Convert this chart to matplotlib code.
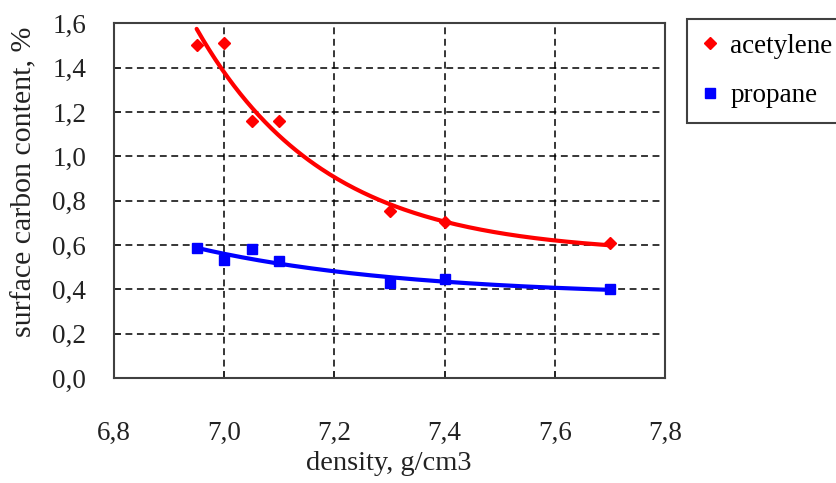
import numpy as np
import matplotlib
matplotlib.use("Agg")
import matplotlib.pyplot as plt

# values
density_acetylene = [6.95, 7.00, 7.05, 7.10, 7.30, 7.40, 7.70]
carbon_acetylene = [1.50, 1.51, 1.16, 1.16, 0.755, 0.705, 0.607]
density_propane = [6.95, 7.00, 7.05, 7.10, 7.30, 7.40, 7.70]
carbon_propane = [0.585, 0.532, 0.58, 0.528, 0.43, 0.445, 0.40]

x_ticks = [6.8, 7.0, 7.2, 7.4, 7.6, 7.8]
x_tick_labels = ["6,8", "7,0", "7,2", "7,4", "7,6", "7,8"]
y_ticks = [0.0, 0.2, 0.4, 0.6, 0.8, 1.0, 1.2, 1.4, 1.6]
y_tick_labels = ["0,0", "0,2", "0,4", "0,6", "0,8", "1,0", "1,2", "1,4", "1,6"]

plt.rcParams["font.family"] = ["Liberation Serif", "DejaVu Serif"]

W, H = 836, 483
fig = plt.figure(figsize=(W / 100, H / 100), dpi=100)
ax = fig.add_axes([114 / W, 1 - 378 / H, (665 - 114) / W, (378 - 23.3) / H])

def trend(x, y):
    # y = c + a*exp(-k*(x - x0)), relative-error least squares, k by grid search
    x = np.asarray(x)
    y = np.asarray(y)
    w = 1 / y
    best = None
    for k in np.linspace(0.5, 30, 600):
        A = np.column_stack([np.ones_like(x), np.exp(-k * (x - x.min()))])
        coef, *_ = np.linalg.lstsq(A * w[:, None], y * w, rcond=None)
        err = np.sum(((A @ coef - y) * w) ** 2)
        if best is None or err < best[0]:
            best = (err, k, coef)
    _, k, (c, a) = best
    xs = np.linspace(x.min(), x.max(), 200)
    return xs, c + a * np.exp(-k * (xs - x.min()))

red = "#ff0000"
blue = "#0000ff"

xs, ys = trend(density_acetylene, carbon_acetylene)
ax.plot(xs, ys, color=red, lw=3, solid_capstyle="round", zorder=3)
xs, ys = trend(density_propane, carbon_propane)
ax.plot(xs, ys, color=blue, lw=3, solid_capstyle="round", zorder=3)

ax.plot(density_acetylene, carbon_acetylene, ls="none", marker="D", ms=6.5,
        color=red, label="acetylene", zorder=4)
ax.plot(density_propane, carbon_propane, ls="none", marker="s", ms=7.5,
        color=blue, label="propane", zorder=4)

ax.set_xlim(6.8, 7.8)
ax.set_ylim(0, 1.6)
ax.set_xticks(x_ticks)
ax.set_xticklabels(x_tick_labels)
ax.set_yticks(y_ticks)
ax.set_yticklabels(y_tick_labels)
ax.tick_params(axis="both", direction="in", length=5, width=1.2,
               labelsize=19.5, colors="#222222")
ax.tick_params(axis="x", pad=31)
ax.tick_params(axis="y", pad=20)

ax.grid(True, color="black", lw=1.1, ls=(0, (4.5, 3)))
ax.set_axisbelow(True)
for s in ax.spines.values():
    s.set_color("#404040")
    s.set_linewidth(1.5)

fig.text(389 / W, 1 - 464 / H, "density, g/cm3", ha="center", va="center",
         fontsize=20.5, color="#222222")
fig.text(24 / W, 1 - 182 / H, "surface carbon content, %", ha="center",
         va="center", rotation=90, fontsize=21.5, color="#222222")

leg = fig.legend(loc="upper left", bbox_to_anchor=(687 / W, 1 - 19 / H),
                 borderaxespad=0, fontsize=19.5, handlelength=0.6,
                 handletextpad=0.45, labelspacing=0.9, borderpad=0.55,
                 fancybox=False, framealpha=1)
leg.get_frame().set_edgecolor("#404040")
leg.get_frame().set_linewidth(1.5)

fig.savefig("out.png", dpi=100)
